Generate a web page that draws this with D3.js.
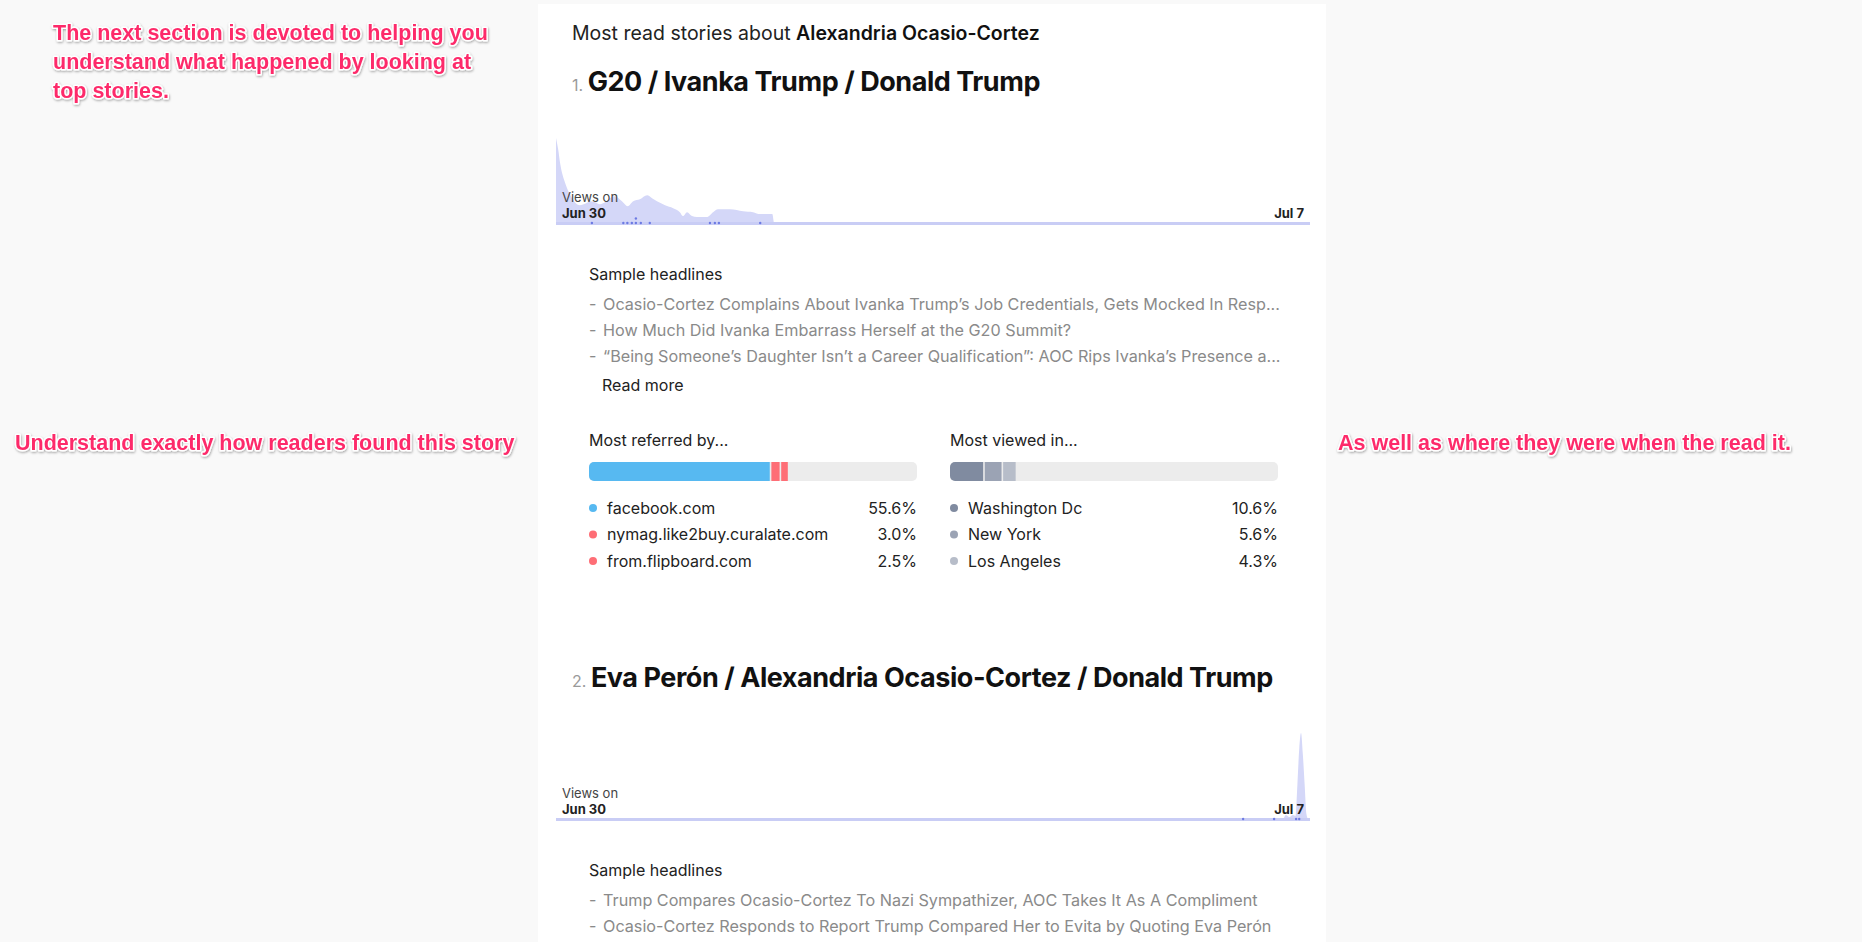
<!DOCTYPE html>
<html>
<head>
<meta charset="utf-8">
<script src="https://cdn.jsdelivr.net/npm/d3@7"></script>
<style>
  body { margin: 0; background: #f9f9f9; }
  svg { display: block; font-family: Inter, "Noto Sans", sans-serif; }
</style>
</head>
<body>
<div id="viz"></div>
<script>
// ---- data ----
var topicName = "Alexandria Ocasio-Cortez";
var storyTitles = ["G20 / Ivanka Trump / Donald Trump",
                   "Eva Perón / Alexandria Ocasio-Cortez / Donald Trump"];
var dateTickLabels = ["Jun 30", "Jul 7"];

// hours since Jun 30 00:00, relative views
var story1Hours = [0, 0.5, 0.9, 2, 3.1, 4.2, 5.3, 6.7, 7.6, 8.7, 9.8, 10.9, 12, 13.1, 14.7, 16,
                   17.2, 18.7, 20.3, 21.4, 22.5, 24.3, 26.1, 27.6, 28.3, 29.2, 30.3, 31.4, 33.6,
                   35, 36.1, 38.8, 41.7, 43.9, 45.5, 47.7, 48.2, 48.6, 168];
var story1Views = [86, 74, 61, 41, 29, 21, 18, 20, 22, 21, 19, 21, 25, 27, 22, 17,
                   22, 24, 28, 25, 22, 18, 15, 11, 7, 11, 7, 6, 6,
                   11, 14, 14, 12, 11, 9, 9, 9, 0, 0];
var story1PostHours = [8, 15, 15.9, 16.9, 17.8, 17.8, 18.9, 20.9, 34.3, 35.4, 36.3, 45.5];

var story2Hours = [0, 162, 162.6, 163.4, 164.2, 164.8, 165.2, 165.6, 166, 166.4, 166.8, 167.2, 167.6, 168];
var story2Views = [0, 0, 4, 2, 4, 3, 35, 70, 86, 65, 35, 5, 0, 0];
var story2PostHours = [153.1, 160, 164.9, 165.6];

var story1Headlines = [
  "Ocasio-Cortez Complains About Ivanka Trump’s Job Credentials, Gets Mocked In Resp...",
  "How Much Did Ivanka Embarrass Herself at the G20 Summit?",
  "“Being Someone’s Daughter Isn’t a Career Qualification”: AOC Rips Ivanka’s Presence a..."
];
var story2Headlines = [
  "Trump Compares Ocasio-Cortez To Nazi Sympathizer, AOC Takes It As A Compliment",
  "Ocasio-Cortez Responds to Report Trump Compared Her to Evita by Quoting Eva Perón"
];

var referrerNames = ["facebook.com", "nymag.like2buy.curalate.com", "from.flipboard.com"];
var referrerShares = [55.6, 3.0, 2.5];
var cityNames = ["Washington Dc", "New York", "Los Angeles"];
var cityShares = [10.6, 5.6, 4.3];

var noteTopLines = ["The next section is devoted to helping you",
                    "understand what happened by looking at",
                    "top stories."];
var noteLeft = "Understand exactly how readers found this story";
var noteRight = "As well as where they were when the read it.";

// ---- drawing ----
var W = 1862, H = 942;
var svg = d3.select("#viz").append("svg").attr("width", W).attr("height", H);

var defs = svg.append("defs");
var shadow = defs.append("filter").attr("id", "noteShadow")
  .attr("x", "-5%").attr("y", "-30%").attr("width", "110%").attr("height", "160%");
shadow.append("feDropShadow").attr("dx", 0.6).attr("dy", 1.2)
  .attr("stdDeviation", 0.9).attr("flood-color", "#000").attr("flood-opacity", 0.35);

// white card
svg.append("rect").attr("x", 538).attr("y", 4).attr("width", 788).attr("height", H)
  .attr("fill", "#fff");

// pink annotations
function note(x, y, txt) {
  svg.append("text").attr("x", x).attr("y", y)
    .attr("font-family", "'Liberation Sans', Arial, sans-serif")
    .attr("font-weight", 700).attr("font-size", 21.5)
    .attr("fill", "#fd2c6b").attr("stroke", "#fff").attr("stroke-width", 3)
    .attr("paint-order", "stroke").attr("stroke-linejoin", "round")
    .attr("filter", "url(#noteShadow)")
    .text(txt);
}
noteTopLines.forEach(function(t, i) { note(53, 40 + i * 29, t); });
note(15, 450, noteLeft);
note(1338, 450, noteRight);

// header
var head = svg.append("text").attr("x", 572).attr("y", 40)
  .attr("font-size", 19.5).attr("fill", "#222");
head.append("tspan").text("Most read stories about ");
head.append("tspan").attr("font-weight", 600).attr("fill", "#111").text(topicName);

var xHour = d3.scaleLinear().domain([0, 168]).range([556, 1310]);

function storyTitle(i, y) {
  var t = svg.append("text").attr("x", 572).attr("y", y);
  t.append("tspan").attr("font-size", 16).attr("fill", "#9a9a9a").text((i + 1) + ". ");
  t.append("tspan").attr("font-size", 27).attr("font-weight", 700).attr("fill", "#111")
    .attr("letter-spacing", -0.45).text(storyTitles[i]);
}

function sparkline(hours, views, posts, top, base) {
  var g = svg.append("g");
  var y = d3.scaleLinear().domain([0, d3.max(views)]).range([base, top]);
  var pts = hours.map(function(h, i) { return [h, views[i]]; });
  var area = d3.area()
    .x(function(d) { return xHour(d[0]); })
    .y0(base)
    .y1(function(d) { return y(d[1]); })
    .curve(d3.curveMonotoneX);
  g.append("path").datum(pts).attr("d", area).attr("fill", "#d4d7f8");
  g.append("line").attr("x1", xHour(0)).attr("x2", xHour(168))
    .attr("y1", base + 0.5).attr("y2", base + 0.5)
    .attr("stroke", "#c9cdf5").attr("stroke-width", 3);

  // publish markers, stacked when on the same hour
  var seen = {};
  g.selectAll(".post").data(posts).enter().append("circle")
    .attr("cx", function(d) { return xHour(d); })
    .attr("cy", function(d) {
      var k = d.toFixed(1);
      seen[k] = (seen[k] || 0) + 1;
      return base - (seen[k] - 1) * 4.5;
    })
    .attr("r", 1.2).attr("fill", "#6d7be3");

  g.append("text").attr("x", 562).attr("y", base - 21)
    .attr("font-size", 13).attr("fill", "#444").text("Views on");
  g.append("text").attr("x", 562).attr("y", base - 5)
    .attr("font-size", 13).attr("font-weight", 700).attr("fill", "#222").text(dateTickLabels[0]);
  g.append("text").attr("x", 1304).attr("y", base - 5).attr("text-anchor", "end")
    .attr("font-size", 13).attr("font-weight", 700).attr("fill", "#222").text(dateTickLabels[1]);
}

function headlines(list, y0) {
  svg.append("text").attr("x", 589).attr("y", y0)
    .attr("font-size", 16).attr("fill", "#222").text("Sample headlines");
  var rows = svg.append("g").selectAll("g").data(list).enter().append("g")
    .attr("transform", function(d, i) { return "translate(0," + (y0 + 30 + 26 * i) + ")"; });
  rows.append("text").attr("x", 589).attr("font-size", 16.2).attr("fill", "#8a8a8a").text("-");
  rows.append("text").attr("x", 603).attr("font-size", 16.2).attr("fill", "#8a8a8a")
    .text(function(d) { return d; });
}

function shareBlock(x0, label, names, shares, colors) {
  var bw = 328, bh = 19, by = 462;
  svg.append("text").attr("x", x0).attr("y", 446)
    .attr("font-size", 16).attr("fill", "#222").text(label);
  var xs = d3.scaleLinear().domain([0, 100]).range([0, bw]);
  var clipId = "clip" + x0;
  defs.append("clipPath").attr("id", clipId).append("rect")
    .attr("x", x0).attr("y", by).attr("width", bw).attr("height", bh).attr("rx", 5);
  svg.append("rect").attr("x", x0).attr("y", by).attr("width", bw).attr("height", bh)
    .attr("rx", 5).attr("fill", "#ececec");
  var starts = [0];
  shares.forEach(function(s, i) { starts.push(starts[i] + s); });
  svg.append("g").attr("clip-path", "url(#" + clipId + ")")
    .selectAll("rect").data(shares).enter().append("rect")
    .attr("x", function(d, i) { return x0 + xs(starts[i]); })
    .attr("y", by).attr("height", bh)
    .attr("width", function(d) { return Math.max(0, xs(d) - 1.6); })
    .attr("fill", function(d, i) { return colors[i]; });

  var rows = svg.append("g").selectAll("g").data(names).enter().append("g")
    .attr("transform", function(d, i) { return "translate(0," + (508 + 26.5 * i) + ")"; });
  rows.append("circle").attr("cx", x0 + 4).attr("cy", 0).attr("r", 4)
    .attr("fill", function(d, i) { return colors[i]; });
  rows.append("text").attr("x", x0 + 18).attr("y", 5.8)
    .attr("font-size", 16).attr("fill", "#222").text(function(d) { return d; });
  rows.append("text").attr("x", x0 + bw).attr("y", 5.8).attr("text-anchor", "end")
    .attr("font-size", 16).attr("fill", "#222")
    .text(function(d, i) { return shares[i].toFixed(1) + "%"; });
}

// story 1
storyTitle(0, 91);
sparkline(story1Hours, story1Views, story1PostHours, 138, 223);
headlines(story1Headlines, 280);
svg.append("text").attr("x", 602).attr("y", 391)
  .attr("font-size", 16).attr("fill", "#222").text("Read more");
shareBlock(589, "Most referred by...", referrerNames, referrerShares,
           ["#57b9f1", "#fe6e76", "#fe6e76"]);
shareBlock(950, "Most viewed in...", cityNames, cityShares,
           ["#808ba0", "#9ba3b4", "#b7bdc9"]);

// story 2
storyTitle(1, 687);
sparkline(story2Hours, story2Views, story2PostHours, 733, 819);
headlines(story2Headlines, 876);
</script>
</body>
</html>
